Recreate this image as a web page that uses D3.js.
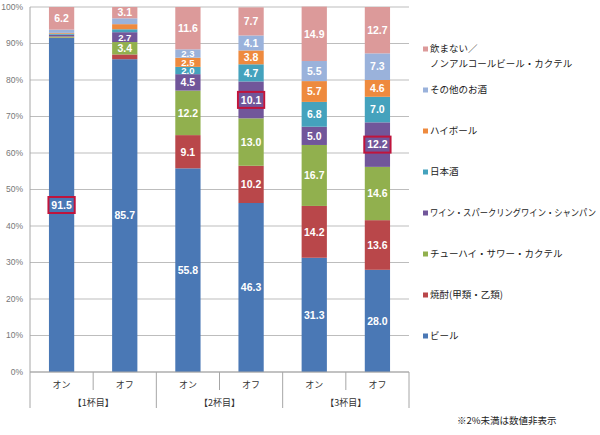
<!DOCTYPE html>
<html>
<head>
<meta charset="utf-8">
<script src="https://cdn.jsdelivr.net/npm/d3@7"></script>
<style>
html,body{margin:0;padding:0;background:#fff;}
svg{display:block;}
</style>
</head>
<body>
<svg id="chart" width="600" height="435"></svg>
<script>
// Categories (bars) and groups
const categories = ["1on","1off","2on","2off","3on","3off"];
const barLabels = ["オン","オフ","オン","オフ","オン","オフ"];
const groupLabels = ["【1杯目】","【2杯目】","【3杯目】"];

// Series names (stack order bottom -> top)
const seriesNames = ["ビール","焼酎(甲類・乙類)","チューハイ・サワー・カクテル","ワイン・スパークリングワイン・シャンパン","日本酒","ハイボール","その他のお酒","飲まない／ノンアルコールビール・カクテル"];
const seriesColors = ["#4A78B5","#B9474A","#91B04E","#71569A","#44A2BD","#EE8A3E","#9AB2DB","#DC9A9A"];

// Values per series, across the six bars
const beer     = [91.5, 85.7, 55.8, 46.3, 31.3, 28.0];
const shochu   = [0.1, 1.3, 9.1, 10.2, 14.2, 13.6];
const chuhai   = [0.3, 3.4, 12.2, 13.0, 16.7, 14.6];
const wine     = [0.5, 2.7, 4.5, 10.1, 5.0, 12.2];
const sake     = [0.3, 0.8, 2.0, 4.7, 6.8, 7.0];
const highball = [0.2, 1.4, 2.5, 3.8, 5.7, 4.6];
const other    = [0.9, 1.6, 2.3, 4.1, 5.5, 7.3];
const nondrink = [6.2, 3.1, 11.6, 7.7, 14.9, 12.7];

const yTicks = [0,10,20,30,40,50,60,70,80,90,100];
// highlighted labels: [seriesIndex, barIndex]
const highlights = [[0,0],[3,3],[3,5]];
const legendLines = [["飲まない／","ノンアルコールビール・カクテル"],["その他のお酒"],["ハイボール"],["日本酒"],["ワイン・スパークリングワイン・シャンパン"],["チューハイ・サワー・カクテル"],["焼酎(甲類・乙類)"],["ビール"]];
const footnote = "※2%未満は数値非表示";

const seriesValues = [beer, shochu, chuhai, wine, sake, highball, other, nondrink];
const table = categories.map((c,i)=>{
  const o = {cat:c};
  seriesNames.forEach((s,j)=>{ o[s] = seriesValues[j][i]; });
  return o;
});

const svg = d3.select("#chart");
const mLeft = 30, mRight = 409, mTop = 7, mBottom = 372;
const x = d3.scaleBand().domain(categories).range([mLeft,mRight]).paddingInner(0.6).paddingOuter(0.3);
const xOuter = d3.scaleBand().domain(categories).range([mLeft,mRight]);
const y = d3.scaleLinear().domain([0,100]).range([mBottom,mTop]);

const jp = "'Noto Sans CJK JP', sans-serif";

// gridlines
svg.append("g").selectAll("line").data(yTicks).join("line")
  .attr("x1",mLeft).attr("x2",mRight)
  .attr("y1",d=>y(d)).attr("y2",d=>y(d))
  .attr("stroke","#BDBDBD").attr("stroke-width",1);

// y axis labels
svg.append("g").selectAll("text").data(yTicks).join("text")
  .attr("x",23).attr("y",d=>y(d)).attr("dy","0.35em")
  .attr("text-anchor","end")
  .attr("font-family","'Liberation Sans', Arial, sans-serif").attr("font-size",8.5)
  .attr("fill","#777").text(d=>d+"%");

// stacked bars
const stack = d3.stack().keys(seriesNames)(table);
const layers = svg.append("g").selectAll("g").data(stack).join("g")
  .attr("fill",(d,i)=>seriesColors[i]);
layers.selectAll("rect").data(d=>d).join("rect")
  .attr("x",d=>x(d.data.cat)).attr("width",x.bandwidth())
  .attr("y",d=>y(d[1])).attr("height",d=>y(d[0])-y(d[1]));

// highlight boxes
svg.append("g").selectAll("rect").data(highlights).join("rect")
  .attr("x",d=>x(categories[d[1]])-0.5)
  .attr("width",x.bandwidth()+1)
  .attr("y",d=>{const s=stack[d[0]][d[1]]; return y((s[0]+s[1])/2)-8;})
  .attr("height",16)
  .attr("fill","none").attr("stroke","#C0143C").attr("stroke-width",2);

// value labels
const labelData = [];
stack.forEach((layer,si)=>layer.forEach((d,bi)=>{
  const v = seriesValues[si][bi];
  if (v >= 2) labelData.push({x:x(d.data.cat)+x.bandwidth()/2, y:y((d[0]+d[1])/2), v});
}));
svg.append("g").selectAll("text").data(labelData).join("text")
  .attr("x",d=>d.x).attr("y",d=>d.y).attr("dy","0.36em")
  .attr("text-anchor","middle")
  .attr("font-family","'Liberation Sans', Arial, sans-serif").attr("font-weight","bold")
  .attr("font-size",d=>d.v < 3 ? 9.5 : 10.5).attr("fill","#fff")
  .text(d=>d.v.toFixed(1));

// axes lines
svg.append("line").attr("x1",mLeft).attr("x2",mLeft).attr("y1",mTop).attr("y2",408).attr("stroke","#A6A6A6");
svg.append("line").attr("x1",mLeft).attr("x2",mRight).attr("y1",mBottom).attr("y2",mBottom).attr("stroke","#A6A6A6");
// separators
const sepIdx = d3.range(1,categories.length+1);
svg.append("g").selectAll("line").data(sepIdx).join("line")
  .attr("x1",i=>xOuter.step()*i+mLeft).attr("x2",i=>xOuter.step()*i+mLeft)
  .attr("y1",mBottom).attr("y2",i=> i%2===0 ? 408 : 390)
  .attr("stroke","#A6A6A6");

// category labels
svg.append("g").selectAll("text").data(categories).join("text")
  .attr("x",d=>x(d)+x.bandwidth()/2).attr("y",385).attr("dy","0.35em")
  .attr("text-anchor","middle").attr("font-family",jp).attr("font-size",9)
  .attr("fill","#333").text((d,i)=>barLabels[i]);
svg.append("g").selectAll("text").data(groupLabels).join("text")
  .attr("x",(d,i)=>mLeft+xOuter.step()*(2*i+1)).attr("y",403).attr("dy","0.35em")
  .attr("text-anchor","middle").attr("font-family",jp).attr("font-size",9)
  .attr("fill","#333").text(d=>d);

// legend (top to bottom: reverse of stack order)
const legOrder = d3.range(seriesNames.length).reverse();
const ly = d3.scaleLinear().domain([0,7]).range([49,336]);
const leg = svg.append("g").selectAll("g").data(legOrder).join("g")
  .attr("transform",(d,i)=>`translate(423,${ly(i)})`);
leg.append("rect").attr("x",0).attr("y",-2.5).attr("width",5).attr("height",5)
  .attr("fill",d=>seriesColors[d]);
leg.each(function(d,i){
  const g = d3.select(this);
  legendLines[i].forEach((t,k)=>{
    const tx = g.append("text").attr("x",7).attr("y",k*15).attr("dy","0.35em")
      .attr("font-family",jp).attr("font-size",9.5).attr("fill","#222").text(t);
    const w = tx.node().getComputedTextLength();
    if (w > 166) tx.attr("textLength",166).attr("lengthAdjust","spacingAndGlyphs");
  });
});

// footnote
svg.append("text").attr("x",457).attr("y",421).attr("dy","0.35em")
  .attr("font-family",jp).attr("font-size",9.5).attr("fill","#222").text(footnote);
</script>
</body>
</html>
